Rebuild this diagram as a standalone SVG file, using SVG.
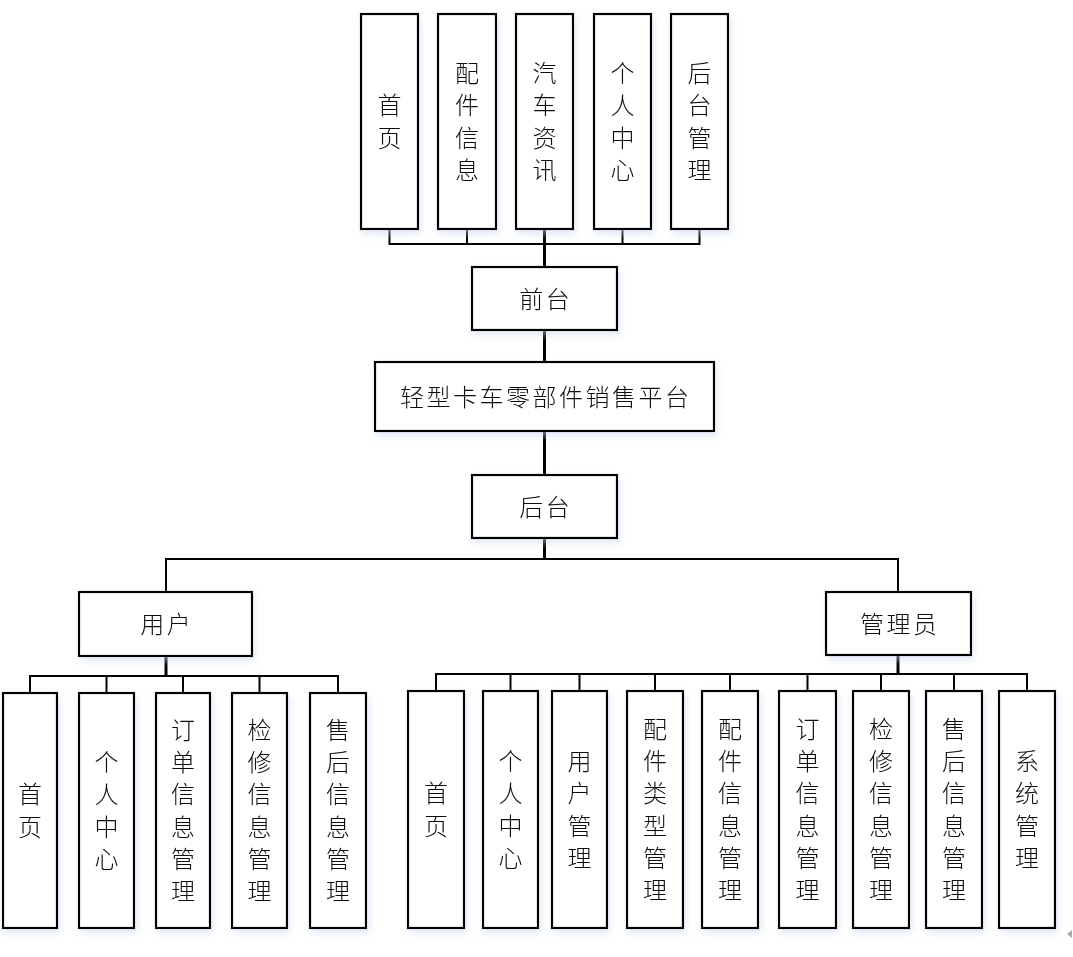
<svg xmlns="http://www.w3.org/2000/svg" width="1073" height="957" viewBox="0 0 1073 957">
<defs>
<filter id="sh" x="-20%" y="-20%" width="150%" height="150%">
<feDropShadow dx="2" dy="4" stdDeviation="3.5" flood-color="#c9d7ef" flood-opacity="0.55"/>
</filter>
<style>
.box{fill:#ffffff;stroke:#000;stroke-width:2.2}
.t{font-family:"Noto Sans CJK SC","Noto Sans",sans-serif;font-size:24px;font-weight:300;fill:#111;text-anchor:middle}
.h{letter-spacing:2.5px}
.c{fill:none;stroke:#000;stroke-width:2;stroke-linecap:square}
.ct{fill:none;stroke:#000;stroke-width:3}
.n{filter:url(#sh)}
</style>
</defs>
<rect width="1073" height="957" fill="#ffffff"/>

<g id="connectors">
<path class="c" d="M389.5,229V244H699.5M467,229V244M622.5,229V244M699.5,229V244"/>
<path class="ct" d="M544.5,229V267"/>
<path class="ct" d="M544.5,330V362"/>
<path class="ct" d="M544.5,431V475"/>
<path class="ct" d="M544.5,538V559"/>
<path class="c" d="M166,592V559H898V592"/>
<path class="ct" d="M166,656V676"/>
<path class="c" d="M30,693V676H338V693M106.5,676V693M183,676V693M259.5,676V693"/>
<path class="ct" d="M898,655V674"/>
<path class="c" d="M436,691V674H1027V691M510.5,674V691M579.5,674V691M655,674V691M730,674V691M807.5,674V691M881,674V691M954,674V691"/>
</g>

<g id="top-shouye" class="n"><rect class="box" x="361" y="14" width="57" height="215"/>
<text class="t"><tspan x="389.5" y="114.4">首</tspan><tspan x="389.5" y="146.7">页</tspan></text></g>
<g id="top-peijian" class="n"><rect class="box" x="438" y="14" width="58" height="215"/>
<text class="t"><tspan x="467" y="82.1">配</tspan><tspan x="467" y="114.4">件</tspan><tspan x="467" y="146.7">信</tspan><tspan x="467" y="179">息</tspan></text></g>
<g id="top-qiche" class="n"><rect class="box" x="516" y="14" width="57" height="215"/>
<text class="t"><tspan x="544.5" y="82.1">汽</tspan><tspan x="544.5" y="114.4">车</tspan><tspan x="544.5" y="146.7">资</tspan><tspan x="544.5" y="179">讯</tspan></text></g>
<g id="top-geren" class="n"><rect class="box" x="594" y="14" width="57" height="215"/>
<text class="t"><tspan x="622.5" y="82.1">个</tspan><tspan x="622.5" y="114.4">人</tspan><tspan x="622.5" y="146.7">中</tspan><tspan x="622.5" y="179">心</tspan></text></g>
<g id="top-houtai" class="n"><rect class="box" x="671" y="14" width="57" height="215"/>
<text class="t"><tspan x="699.5" y="82.1">后</tspan><tspan x="699.5" y="114.4">台</tspan><tspan x="699.5" y="146.7">管</tspan><tspan x="699.5" y="179">理</tspan></text></g>

<g id="qiantai" class="n"><rect class="box" x="472" y="267" width="145" height="63"/>
<text class="t h" x="545.8" y="307.5">前台</text></g>
<g id="platform" class="n"><rect class="box" x="375" y="362" width="339" height="69"/>
<text class="t h" x="545.8" y="405.5">轻型卡车零部件销售平台</text></g>
<g id="houtai" class="n"><rect class="box" x="472" y="475" width="145" height="63"/>
<text class="t h" x="545.8" y="515.5">后台</text></g>
<g id="yonghu" class="n"><rect class="box" x="79" y="592" width="173" height="64"/>
<text class="t h" x="166.8" y="633">用户</text></g>
<g id="guanliyuan" class="n"><rect class="box" x="826" y="592" width="145" height="63"/>
<text class="t h" x="899.7" y="632.5">管理员</text></g>

<g id="u-shouye" class="n"><rect class="box" x="3" y="693" width="54" height="235"/>
<text class="t"><tspan x="30" y="803.4">首</tspan><tspan x="30" y="835.7">页</tspan></text></g>
<g id="u-geren" class="n"><rect class="box" x="79" y="693" width="55" height="235"/>
<text class="t"><tspan x="106.5" y="771.1">个</tspan><tspan x="106.5" y="803.4">人</tspan><tspan x="106.5" y="835.7">中</tspan><tspan x="106.5" y="868">心</tspan></text></g>
<g id="u-dingdan" class="n"><rect class="box" x="156" y="693" width="54" height="235"/>
<text class="t"><tspan x="183" y="738.8">订</tspan><tspan x="183" y="771.1">单</tspan><tspan x="183" y="803.4">信</tspan><tspan x="183" y="835.7">息</tspan><tspan x="183" y="868">管</tspan><tspan x="183" y="900.3">理</tspan></text></g>
<g id="u-jianxiu" class="n"><rect class="box" x="232" y="693" width="55" height="235"/>
<text class="t"><tspan x="259.5" y="738.8">检</tspan><tspan x="259.5" y="771.1">修</tspan><tspan x="259.5" y="803.4">信</tspan><tspan x="259.5" y="835.7">息</tspan><tspan x="259.5" y="868">管</tspan><tspan x="259.5" y="900.3">理</tspan></text></g>
<g id="u-shouhou" class="n"><rect class="box" x="310" y="693" width="56" height="235"/>
<text class="t"><tspan x="338" y="738.8">售</tspan><tspan x="338" y="771.1">后</tspan><tspan x="338" y="803.4">信</tspan><tspan x="338" y="835.7">息</tspan><tspan x="338" y="868">管</tspan><tspan x="338" y="900.3">理</tspan></text></g>

<g id="a-shouye" class="n"><rect class="box" x="408" y="691" width="56" height="237"/>
<text class="t"><tspan x="436" y="802.4">首</tspan><tspan x="436" y="834.7">页</tspan></text></g>
<g id="a-geren" class="n"><rect class="box" x="483" y="691" width="55" height="237"/>
<text class="t"><tspan x="510.5" y="770.1">个</tspan><tspan x="510.5" y="802.4">人</tspan><tspan x="510.5" y="834.7">中</tspan><tspan x="510.5" y="867">心</tspan></text></g>
<g id="a-yonghu" class="n"><rect class="box" x="552" y="691" width="55" height="237"/>
<text class="t"><tspan x="579.5" y="770.1">用</tspan><tspan x="579.5" y="802.4">户</tspan><tspan x="579.5" y="834.7">管</tspan><tspan x="579.5" y="867">理</tspan></text></g>
<g id="a-peijianleixing" class="n"><rect class="box" x="627" y="691" width="56" height="237"/>
<text class="t"><tspan x="655" y="737.8">配</tspan><tspan x="655" y="770.1">件</tspan><tspan x="655" y="802.4">类</tspan><tspan x="655" y="834.7">型</tspan><tspan x="655" y="867">管</tspan><tspan x="655" y="899.3">理</tspan></text></g>
<g id="a-peijianxinxi" class="n"><rect class="box" x="702" y="691" width="56" height="237"/>
<text class="t"><tspan x="730" y="737.8">配</tspan><tspan x="730" y="770.1">件</tspan><tspan x="730" y="802.4">信</tspan><tspan x="730" y="834.7">息</tspan><tspan x="730" y="867">管</tspan><tspan x="730" y="899.3">理</tspan></text></g>
<g id="a-dingdan" class="n"><rect class="box" x="779" y="691" width="57" height="237"/>
<text class="t"><tspan x="807.5" y="737.8">订</tspan><tspan x="807.5" y="770.1">单</tspan><tspan x="807.5" y="802.4">信</tspan><tspan x="807.5" y="834.7">息</tspan><tspan x="807.5" y="867">管</tspan><tspan x="807.5" y="899.3">理</tspan></text></g>
<g id="a-jianxiu" class="n"><rect class="box" x="853" y="691" width="56" height="237"/>
<text class="t"><tspan x="881" y="737.8">检</tspan><tspan x="881" y="770.1">修</tspan><tspan x="881" y="802.4">信</tspan><tspan x="881" y="834.7">息</tspan><tspan x="881" y="867">管</tspan><tspan x="881" y="899.3">理</tspan></text></g>
<g id="a-shouhou" class="n"><rect class="box" x="926" y="691" width="56" height="237"/>
<text class="t"><tspan x="954" y="737.8">售</tspan><tspan x="954" y="770.1">后</tspan><tspan x="954" y="802.4">信</tspan><tspan x="954" y="834.7">息</tspan><tspan x="954" y="867">管</tspan><tspan x="954" y="899.3">理</tspan></text></g>
<g id="a-xitong" class="n"><rect class="box" x="999" y="691" width="56" height="237"/>
<text class="t"><tspan x="1027" y="770.1">系</tspan><tspan x="1027" y="802.4">统</tspan><tspan x="1027" y="834.7">管</tspan><tspan x="1027" y="867">理</tspan></text></g>

<polygon points="1067,934 1072,930 1072,938" fill="#aaaaaa"/>
</svg>
